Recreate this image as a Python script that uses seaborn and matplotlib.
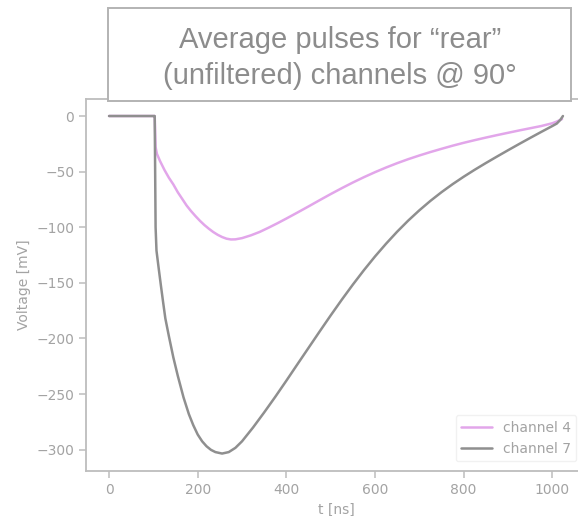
import numpy as np
import pandas as pd
import matplotlib
matplotlib.use("Agg")
import matplotlib.pyplot as plt
from matplotlib.patches import Rectangle
import seaborn as sns

# Averaged pulse waveforms (time in ns, amplitude in mV)
t_ch4 = [0, 100, 103, 105, 108, 115, 125, 135, 145, 155, 165, 175, 185, 195,
         205, 215, 225, 235, 245, 255, 265, 275, 285, 300, 320, 340, 360, 380,
         400, 425, 450, 475, 500, 525, 550, 575, 600, 625, 650, 675, 700, 725,
         750, 775, 800, 825, 850, 875, 900, 925, 950, 975, 1000, 1010, 1022]
v_ch4 = [0, 0, 0, -28, -34, -40.5, -48.5, -55.5, -61.5, -68.5, -74.5, -80.5, -85.5, -90,
         -94.2, -98, -101.3, -104.3, -106.8, -108.8, -110.3, -111, -110.9, -109.8, -107.3, -104.2, -100.4, -96.4,
         -92.2, -86.8, -81.3, -75.7, -70.2, -64.9, -59.8, -55, -50.5, -46.3, -42.4, -38.8, -35.5, -32.4,
         -29.5, -26.7, -24.1, -21.7, -19.4, -17.2, -15.1, -13, -11, -9, -6.5, -5, -2.7]

t_ch7 = [0, 100, 103, 105, 107, 112, 117, 122, 127, 135, 145, 155, 168, 180,
         190, 200, 210, 220, 230, 240, 255, 270, 285, 300, 325, 350, 375, 400,
         425, 450, 475, 500, 525, 550, 575, 600, 625, 650, 675, 700, 725, 750,
         775, 800, 825, 850, 875, 900, 925, 950, 975, 1000, 1010, 1018, 1024]
v_ch7 = [0, 0, 0, -100, -121, -137, -152.5, -167.5, -182, -198, -217, -233.5, -253, -268,
         -278, -286.4, -292.5, -297, -300.2, -302.2, -303.5, -302.2, -298.4, -292.5, -280, -266.5, -252.5, -238,
         -223.2, -208.5, -193.8, -179.3, -165.2, -151.6, -138.6, -126.3, -114.8, -104, -94, -84.8, -76.3, -68.5,
         -61.3, -54.6, -48.3, -42.3, -36.5, -30.8, -25.2, -19.7, -14.3, -9, -6.8, -3.5, 0]

labels = ["channel 4", "channel 7"]
colors = ["#e2a6ea", "#8f8f8f"]

df = pd.concat([
    pd.DataFrame({"t": t_ch4, "v": v_ch4, "channel": labels[0]}),
    pd.DataFrame({"t": t_ch7, "v": v_ch7, "channel": labels[1]}),
], ignore_index=True)

sns.set_theme(style="ticks")
plt.rcParams["font.family"] = ["DejaVu Sans"]

txt = "#a3a3a3"
spine = "#bdbdbd"

fig = plt.figure(figsize=(5.78, 5.16), dpi=100)
fig.patch.set_facecolor("white")
ax = fig.add_axes([86 / 578, 45 / 516, 500 / 578, 372 / 516])
ax.set_facecolor("white")

sns.lineplot(data=df, x="t", y="v", hue="channel", palette=colors,
             linewidth=1.8, ax=ax, sort=False, estimator=None)

ax.set_xlim(-52, 1076)
ax.set_ylim(-319.2, 15.3)
ax.set_xticks([0, 200, 400, 600, 800, 1000])
ax.set_yticks([0, -50, -100, -150, -200, -250, -300])
ax.set_xlabel("t [ns]", color=txt, fontsize=10)
ax.set_ylabel("Voltage [mV]", color=txt, fontsize=10)
ax.tick_params(colors=spine, labelcolor=txt, labelsize=10, length=5, width=1.1)
for s in ax.spines.values():
    s.set_color(spine)
    s.set_linewidth(1.3)

leg = ax.legend(loc="lower right", fontsize=10, frameon=True, borderaxespad=0.7,
                handlelength=2.2)
leg.get_frame().set_edgecolor("#eeeeee")
for tx in leg.get_texts():
    tx.set_color(txt)

# Title box above the axes
box = Rectangle((108 / 578, 1 - 101 / 516), (571 - 108) / 578, 93 / 516,
                transform=fig.transFigure, facecolor="white", edgecolor="#b3b3b3",
                linewidth=1.4, zorder=5)
fig.add_artist(box)
fig.text(340 / 578, 1 - 40 / 516, "Average pulses for \u201crear\u201d",
         ha="center", va="center", fontsize=21, color="#8c8c8c",
         family="Liberation Sans", zorder=6)
fig.text(340 / 578, 1 - 76 / 516, "(unfiltered) channels @ 90\u00b0",
         ha="center", va="center", fontsize=21, color="#8c8c8c",
         family="Liberation Sans", zorder=6)

fig.savefig("out.png", dpi=100)
